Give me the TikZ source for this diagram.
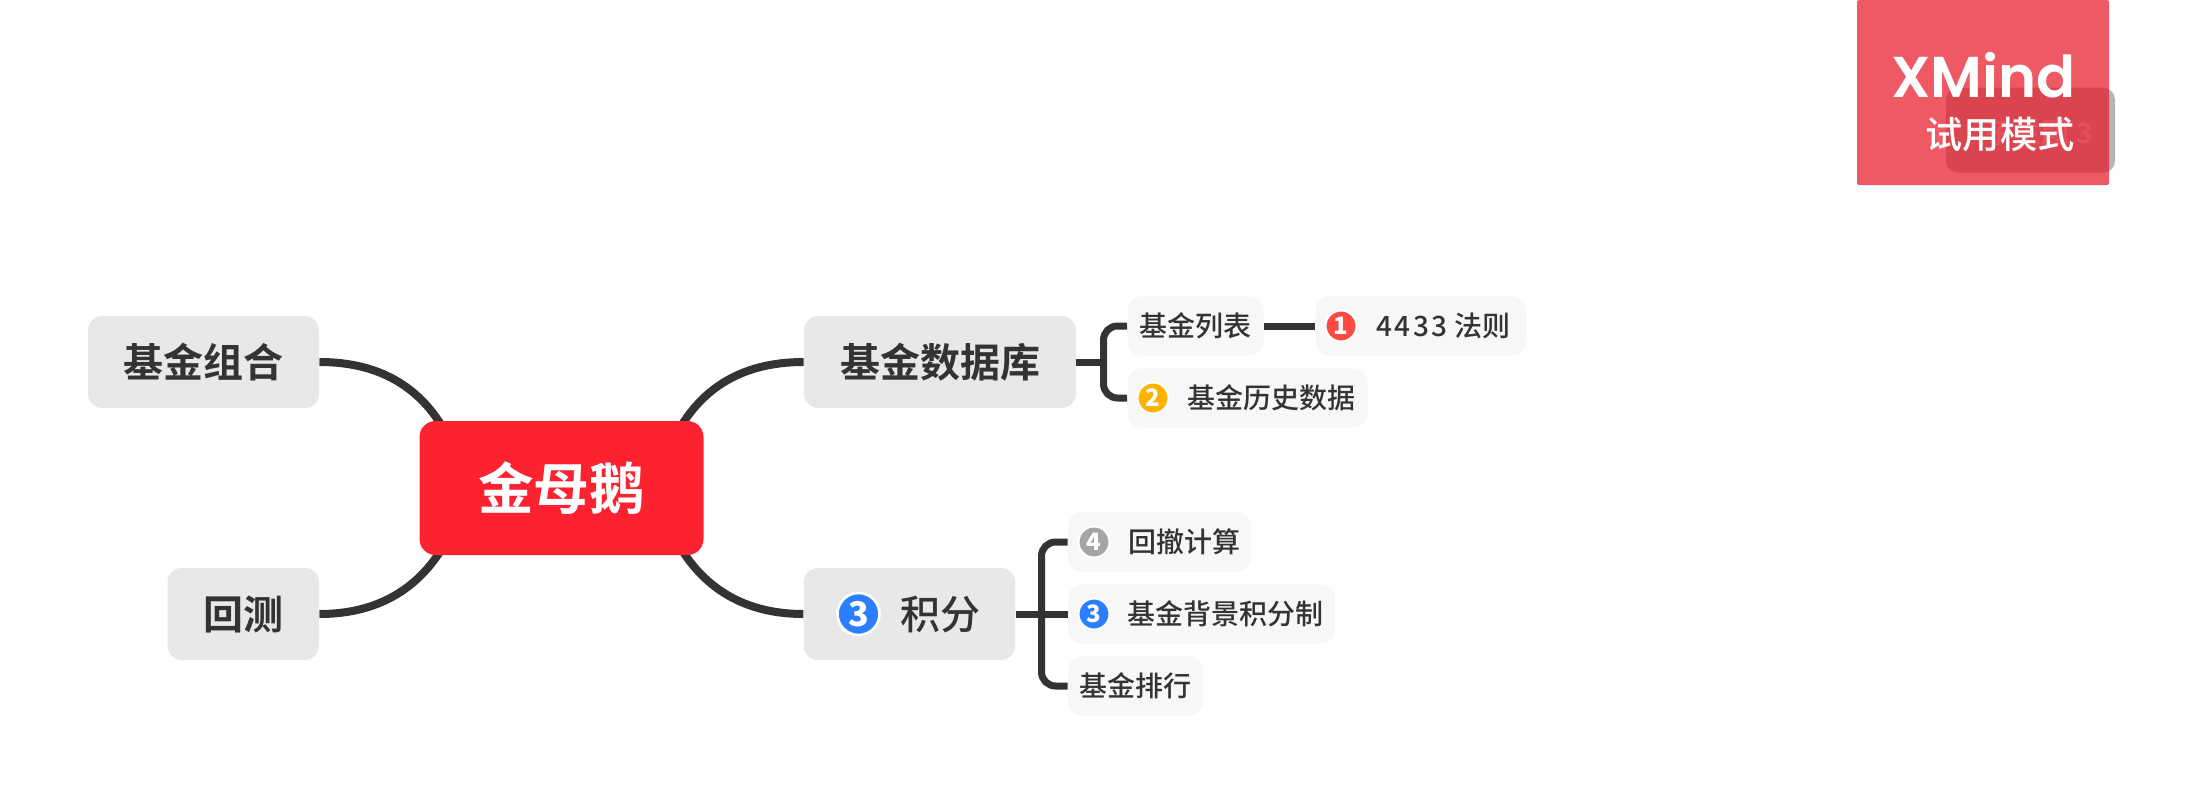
\documentclass[tikz,border=0pt]{standalone}
\usepackage{fontspec}
\usetikzlibrary{backgrounds}
\setmainfont{Noto Sans CJK SC}
\newfontfamily\cjkmed{Noto Sans CJK SC Medium}
\newfontfamily\cjkbold{Noto Sans CJK SC Bold}
\newfontfamily\cjkblack{Noto Sans CJK SC Black}
\newfontfamily\wmlatin{Poppins SemiBold}
\newfontfamily\cjkspaced[LetterSpace=9]{Noto Sans CJK SC Medium}
\definecolor{ink}{HTML}{333333}
\definecolor{mainbox}{HTML}{E8E8E8}
\definecolor{subbox}{HTML}{F7F7F7}
\definecolor{rootred}{HTML}{FC2230}
\definecolor{icblue}{HTML}{2B7FFF}
\definecolor{icred}{HTML}{FF4A44}
\definecolor{icyellow}{HTML}{FFB300}
\definecolor{icgray}{HTML}{A5A5A5}
\tikzset{
  x=0.5pt,y=-0.5pt,
  mainT/.style={draw=none,fill=mainbox,rounded corners=7pt,inner sep=0pt,text=ink,font=\cjkbold\fontsize{20pt}{22pt}\selectfont},
  subT/.style={draw=none,fill=subbox,rounded corners=7pt,inner sep=0pt,text=ink,font=\cjkmed\fontsize{14pt}{16pt}\selectfont},
  labelM/.style={inner sep=0pt,anchor=west,text=ink,font=\cjkmed\fontsize{20pt}{22pt}\selectfont},
  labelS/.style={inner sep=0pt,anchor=west,text=ink,font=\cjkmed\fontsize{14pt}{16pt}\selectfont},
  conn/.style={draw=ink,line width=4pt},
  brch/.style={draw=ink,line width=3.5pt,rounded corners=7pt},
  iconB/.style={circle,draw=white,line width=1pt,inner sep=0pt,minimum size=15.5pt,text=white,font=\cjkblack\fontsize{12pt}{12pt}\selectfont},
  iconL/.style={circle,draw=white,line width=1.3pt,inner sep=0pt,minimum size=21pt,text=white,font=\cjkblack\fontsize{17pt}{17pt}\selectfont},
}
\begin{document}
\begin{tikzpicture}
\useasboundingbox (0,0) rectangle (2203,803);
% root
\node[fill=rootred,rounded corners=8pt,inner sep=0pt,minimum width=142pt,minimum height=67pt,text=white,font=\cjkbold\fontsize{27.8pt}{32pt}\selectfont] (root) at (561.5,488) {金母鹅};
% main topics
\node[mainT,minimum width=115.5pt,minimum height=46pt] (zuhe) at (203.5,362) {基金组合};
\node[mainT,minimum width=75.7pt,minimum height=46pt] (huice) at (243.3,614) {回测};
\node[mainT,minimum width=136pt,minimum height=46pt] (shuju) at (940,362) {基金数据库};
\node[mainT,minimum width=105.7pt,minimum height=46pt] (jifen) at (909.5,614) {};
\node[iconL,fill=icblue] (icJ) at (858.5,614) {3};
\node[labelM] (tJ) at (900,614) {积分};
% sub topics
\node[subT,minimum width=68pt,minimum height=29.7pt] (liebiao) at (1195.5,326) {基金列表};
\node[subT,minimum width=105.3pt,minimum height=29.7pt] (fa) at (1421,326) {};
\node[iconB,fill=icred] (ic1) at (1341,326) {1};
\node[labelS] (tF) at (1376,326) {{\cjkspaced 4433} 法则};
\node[subT,minimum width=120pt,minimum height=29.7pt] (lishi) at (1247.5,398) {};
\node[iconB,fill=icyellow] (ic2) at (1153,398) {2};
\node[labelS] (tL) at (1187,398) {基金历史数据};
\node[subT,minimum width=91.5pt,minimum height=29.7pt] (huiche) at (1159.4,542) {};
\node[iconB,fill=icgray] (ic4) at (1094,542) {4};
\node[labelS] (tH) at (1128,542) {回撤计算};
\node[subT,minimum width=133.5pt,minimum height=29.7pt] (beijing) at (1201.5,614) {};
\node[iconB,fill=icblue] (ic3) at (1094,614) {3};
\node[labelS] (tB) at (1127,614) {基金背景积分制};
\node[subT,minimum width=67.5pt,minimum height=29.7pt] (paihang) at (1135.5,686) {基金排行};
% connectors
\coordinate (tA) at (1103.5,362);
\coordinate (tC) at (1041.5,614);
\coordinate (rTL) at (448,437);
\coordinate (rBL) at (448,538);
\coordinate (rTR) at (675,437);
\coordinate (rBR) at (675,538);
\begin{scope}[on background layer]
\draw[conn] (zuhe.east) .. controls (385,362) and (425,392) .. (rTL);
\draw[conn] (huice.east) .. controls (385,614) and (425,582) .. (rBL);
\draw[conn] (shuju.west) .. controls (738,362) and (698,392) .. (rTR);
\draw[conn] (jifen.west) .. controls (738,614) and (698,582) .. (rBR);
\end{scope}
\draw[brch] (shuju.east) -- (tA);
\draw[brch] (liebiao.west) -| (tA) |- (lishi.west);
\draw[conn,line width=3.5pt] (liebiao.east) -- (fa.west);
\draw[brch] (jifen.east) -- (beijing.west);
\draw[brch] (huiche.west) -| (tC) |- (paihang.west);
% watermark
\node[fill=black,fill opacity=0.29,rounded corners=6pt,inner sep=0pt,minimum width=84.5pt,minimum height=42.5pt] (ghost) at (2030.5,130.2) {};
\node[text=white!88!black,inner sep=0pt,font=\cjkbold\fontsize{14pt}{16pt}\selectfont,anchor=east] (ghostT) at (2093,133) {子主题 3};
\node[fill={rgb,255:red,232;green,27;blue,42},fill opacity=0.73,inner sep=0pt,rounded corners=1pt,minimum width=126pt,minimum height=92.5pt] (wm) at (1983,92.5) {};
\node[text=white,inner sep=0pt,anchor=base west,font=\wmlatin\fontsize{28.8pt}{30pt}\selectfont] (wmX) at (1891,97) {XMind};
\node[text=white,inner sep=0pt,font=\cjkmed\fontsize{18.6pt}{20pt}\selectfont] (wmT) at (2000,134.5) {试用模式};
\end{tikzpicture}
\end{document}
